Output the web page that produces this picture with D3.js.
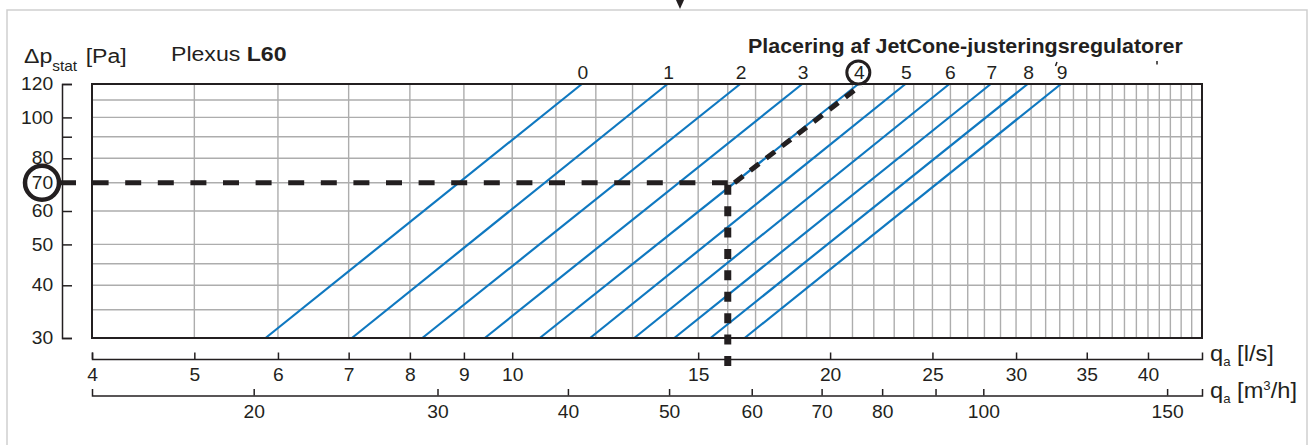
<!DOCTYPE html>
<html>
<head>
<meta charset="utf-8">
<script src="https://cdn.jsdelivr.net/npm/d3@7"></script>
<style>
  body { margin: 0; background: #fff; }
  svg { display: block; }
  text { font-family: "Liberation Sans", Arial, Helvetica, sans-serif; fill: #231f20; }
</style>
</head>
<body>
<svg id="chart" width="1313" height="445"></svg>
<script>
// JetCone setting lines: flow (l/s) where each line crosses 30 Pa and 120 Pa
const settings = [0, 1, 2, 3, 4, 5, 6, 7, 8, 9]
const qAt30 = [5.84, 7.05, 8.22, 9.42, 10.62, 11.85, 13.05, 14.24, 15.41, 16.60]
const qAt120 = [11.64, 14.03, 16.44, 18.82, 21.27, 23.57, 25.94, 28.39, 30.77, 33.09]

const dpDomain = [30, 120]
const qDomain = [4, 45]
const m3hDomain = [14, 162]

const dpTicks = [30, 40, 50, 60, 70, 80, 90, 100, 120]
const dpGrid = [30, 35, 40, 45, 50, 60, 70, 80, 90, 100, 110, 120]
const qTicks = [4, 5, 6, 7, 8, 9, 10, 15, 20, 25, 30, 35, 40]
const qGrid = d3.range(4, 46)
const m3hTicks = [20, 30, 40, 50, 60, 70, 80, 90, 100, 150]
const unlabelled = [90]

// worked example: 70 Pa at 16 l/s -> setting 4
const exampleDp = 70
const exampleQ = 16
const exampleSetting = 4

const ink = '#231f20'
const blue = '#0f78c0'
const grey = '#adadad'
const stretch = 1.1   // the source type is set a little wide

const svg = d3.select('#chart')
const plotL = 92, plotR = 1202, plotT = 84, plotB = 338

const x = d3.scaleLog().domain(qDomain).range([plotL, plotR])
const xm = d3.scaleLog().domain(m3hDomain).range([plotL, plotR])
const y = d3.scaleLog().domain(dpDomain).range([plotB, plotT])

// page frame + marker on top
svg.append('path')
  .attr('d', 'M7,450V10H1307V450')
  .attr('fill', 'none')
  .attr('stroke', '#cfcfcf')
  .attr('stroke-width', 1.5)
svg.append('path')
  .attr('d', 'M676,0H684L680,9Z')
  .attr('fill', ink)

// grid
const grid = svg.append('g').attr('stroke', grey).attr('stroke-width', 1.4)
grid.selectAll('.h')
  .data(dpGrid)
  .join('line')
  .attr('class', 'h')
  .attr('x1', plotL).attr('x2', plotR)
  .attr('y1', d => y(d)).attr('y2', d => y(d))
grid.selectAll('.v')
  .data(qGrid)
  .join('line')
  .attr('class', 'v')
  .attr('x1', d => x(d)).attr('x2', d => x(d))
  .attr('y1', plotT).attr('y2', plotB)

// setting lines
const lines = settings.map((s, i) => ({ s, pts: [[qAt30[i], dpDomain[0]], [qAt120[i], dpDomain[1]]] }))
const line = d3.line().x(d => x(d[0])).y(d => y(d[1]))
svg.append('g')
  .selectAll('path')
  .data(lines)
  .join('path')
  .attr('d', d => line(d.pts))
  .attr('fill', 'none')
  .attr('stroke', blue)
  .attr('stroke-width', 2.2)

svg.append('rect')
  .attr('x', plotL).attr('y', plotT)
  .attr('width', plotR - plotL).attr('height', plotB - plotT)
  .attr('fill', 'none')
  .attr('stroke', ink)
  .attr('stroke-width', 2)

// axes
const styleAxis = (g, size) => {
  g.attr('font-family', null).attr('font-size', size).attr('color', ink)
  g.selectAll('line, path').attr('stroke-width', 1.5)
}

const yAxisX = 62
svg.append('g')
  .attr('transform', `translate(${yAxisX},0)`)
  .call(d3.axisLeft(y).tickValues(dpTicks)
    .tickFormat(d => unlabelled.includes(d) ? '' : d)
    .tickSizeInner(-10).tickSizeOuter(-10).tickPadding(8))
  .call(g => styleAxis(g, 17.5))
  .call(g => g.selectAll('text').attr('transform', `scale(${stretch},1)`))

const qAxisY = 359
svg.append('g')
  .attr('transform', `translate(0,${qAxisY})`)
  .call(d3.axisBottom(x).tickValues(qTicks).tickFormat(d3.format('d'))
    .tickSizeInner(-6.5).tickSizeOuter(-6.5).tickPadding(9.5))
  .call(g => styleAxis(g, 17.5))
  .call(g => g.selectAll('text').attr('transform', `scale(${stretch},1)`))

const mAxisY = 395.5
svg.append('g')
  .attr('transform', `translate(0,${mAxisY})`)
  .call(d3.axisBottom(xm).tickValues(m3hTicks)
    .tickFormat(d => unlabelled.includes(d) ? '' : d)
    .tickSizeInner(-6.5).tickSizeOuter(-6.5).tickPadding(10))
  .call(g => styleAxis(g, 17.5))
  .call(g => g.selectAll('text').attr('transform', `scale(${stretch},1)`))

// worked example dashes
const ex = lines[exampleSetting].pts
const t = (Math.log(exampleDp) - Math.log(ex[0][1])) / (Math.log(ex[1][1]) - Math.log(ex[0][1]))
const exX = x(ex[0][0]) + t * (x(ex[1][0]) - x(ex[0][0]))

svg.append('line')
  .attr('x1', yAxisX - 2).attr('x2', x(exampleQ))
  .attr('y1', y(exampleDp)).attr('y2', y(exampleDp))
  .attr('stroke', ink).attr('stroke-width', 5)
  .attr('stroke-dasharray', '16,16.6')
svg.append('line')
  .attr('x1', x(exampleQ)).attr('x2', x(exampleQ))
  .attr('y1', y(exampleDp) + 2).attr('y2', qAxisY + 8)
  .attr('stroke', ink).attr('stroke-width', 7)
  .attr('stroke-dasharray', '10,11.4')
svg.append('line')
  .attr('x1', exX).attr('y1', y(exampleDp))
  .attr('x2', x(ex[1][0]) + 3).attr('y2', plotT + 1)
  .attr('stroke', ink).attr('stroke-width', 5)
  .attr('stroke-dasharray', '11,9')

// setting numbers
const labelY = 78.5
svg.append('g')
  .selectAll('text')
  .data(lines)
  .join('text')
  .attr('transform', d => `translate(${x(d.pts[1][0]) + 1},${labelY}) scale(${stretch},1)`)
  .attr('text-anchor', 'middle')
  .attr('font-size', 17.5)
  .text(d => d.s)

svg.append('circle')
  .attr('cx', x(qAt120[exampleSetting])).attr('cy', labelY - 6)
  .attr('r', 11.5)
  .attr('fill', 'none').attr('stroke', ink).attr('stroke-width', 3)
svg.append('circle')
  .attr('cx', yAxisX - 20).attr('cy', y(exampleDp))
  .attr('r', 17)
  .attr('fill', 'none').attr('stroke', ink).attr('stroke-width', 4.5)

// stray marks from the source print
svg.append('path')
  .attr('d', 'M1057,62L1055.5,66M1157,61V64.5')
  .attr('stroke', ink).attr('stroke-width', 1.5)

// titles
const label = (px, py, size) => svg.append('text')
  .attr('transform', `translate(${px},${py}) scale(${stretch},1)`)
  .attr('font-size', size)

const dp = label(24, 63, 21)
dp.append('tspan').text('Δp')
dp.append('tspan').attr('font-size', 14).attr('dy', 8).text('stat')
dp.append('tspan').attr('dy', -8).attr('dx', 2).text(' [Pa]')

const plexus = label(171, 61, 21)
plexus.append('tspan').text('Plexus ')
plexus.append('tspan').attr('font-weight', 'bold').text('L60')

label(748, 53, 19.5)
  .attr('font-weight', 'bold')
  .text('Placering af JetCone-justeringsregulatorer')

const qs = label(1210, 361, 21.5)
qs.append('tspan').text('q')
qs.append('tspan').attr('font-size', 12).attr('dy', 5).text('a')
qs.append('tspan').attr('dy', -5).text(' [l/s]')

const qm = label(1210, 398, 21.5)
qm.append('tspan').text('q')
qm.append('tspan').attr('font-size', 12).attr('dy', 5).text('a')
qm.append('tspan').attr('dy', -5).text(' [m')
qm.append('tspan').attr('font-size', 12).attr('dy', -8).text('3')
qm.append('tspan').attr('dy', 8).text('/h]')
</script>
</body>
</html>
